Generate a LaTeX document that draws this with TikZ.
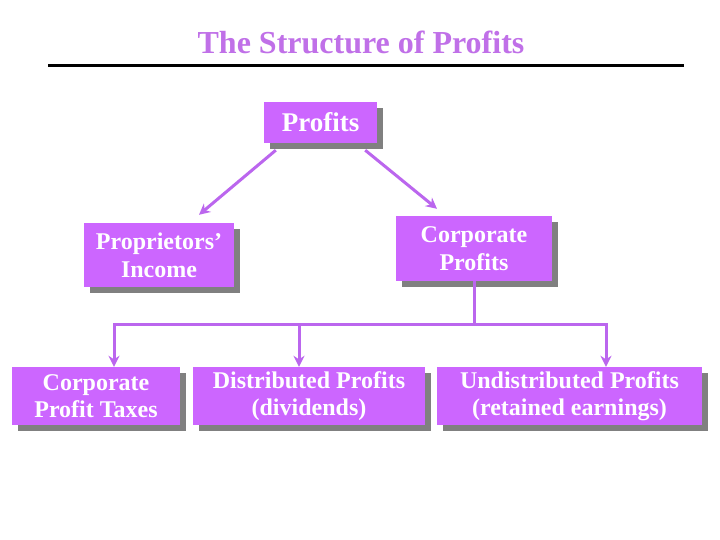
\documentclass[tikz,border=0pt]{standalone}
\usepackage{fontspec}
\setmainfont{Liberation Serif}
\usetikzlibrary{shadows,arrows.meta,calc}
\definecolor{boxfill}{HTML}{CC66FF}
\definecolor{linec}{HTML}{BB66EE}
\definecolor{titlec}{HTML}{C070E8}
\definecolor{shadowc}{HTML}{808080}
\begin{document}
\begin{tikzpicture}[x=1pt,y=-1pt,
  box/.style={rectangle, fill=boxfill, text=white, align=center, inner sep=0pt,
    font=\bfseries\fontsize{24}{28}\selectfont,
    drop shadow={shadow xshift=6pt, shadow yshift=-6pt, fill=shadowc, opacity=1}},
  conn/.style={draw=linec, line width=3pt},
  arr/.style={conn, -{Stealth[length=11pt,width=11pt]}}]
\useasboundingbox[fill=white] (0,0) rectangle (720,540);
\node[font=\bfseries\fontsize{32}{36}\selectfont, text=titlec] (title) at (361,42) {The Structure of Profits};
\draw[line width=3pt] (48,66) -- (684,66);
\node[box, minimum width=113pt, minimum height=41pt, font=\bfseries\fontsize{27}{30}\selectfont] (prof) at (320.5,122.5) {Profits};
\node[box, minimum width=150pt, minimum height=64pt] (prop) at (159,255) {Proprietors’\\Income};
\node[box, minimum width=156pt, minimum height=65pt] (corp) at (474,248.5) {Corporate\\Profits};
\node[box, minimum width=168pt, minimum height=58pt, font=\bfseries\fontsize{24}{27}\selectfont] (tax) at (96,396) {Corporate\\Profit Taxes};
\node[box, minimum width=232pt, minimum height=58pt, font=\bfseries\fontsize{24}{27}\selectfont] (dist) at (309,396) {Distributed Profits\\(dividends)};
\node[box, minimum width=265pt, minimum height=58pt, font=\bfseries\fontsize{24}{27}\selectfont] (und) at (569.5,396) {Undistributed Profits\\(retained earnings)};
\draw[arr] ([xshift=12pt,yshift=-7pt]prof.south west) -- ([xshift=40pt,yshift=8pt]prop.north);
\draw[arr] ([xshift=-12pt,yshift=-7pt]prof.south east) -- ([xshift=-37pt,yshift=7pt]corp.north);
\draw[conn] (corp.south) -- ++(0,43) coordinate (j);
\draw[arr] (j) -| ([xshift=18pt]tax.north);
\draw[arr] (j) -| ([xshift=36.5pt]und.north);
\draw[arr] ([xshift=-10pt]dist.north |- j) -- ([xshift=-10pt]dist.north);
\end{tikzpicture}
\end{document}
